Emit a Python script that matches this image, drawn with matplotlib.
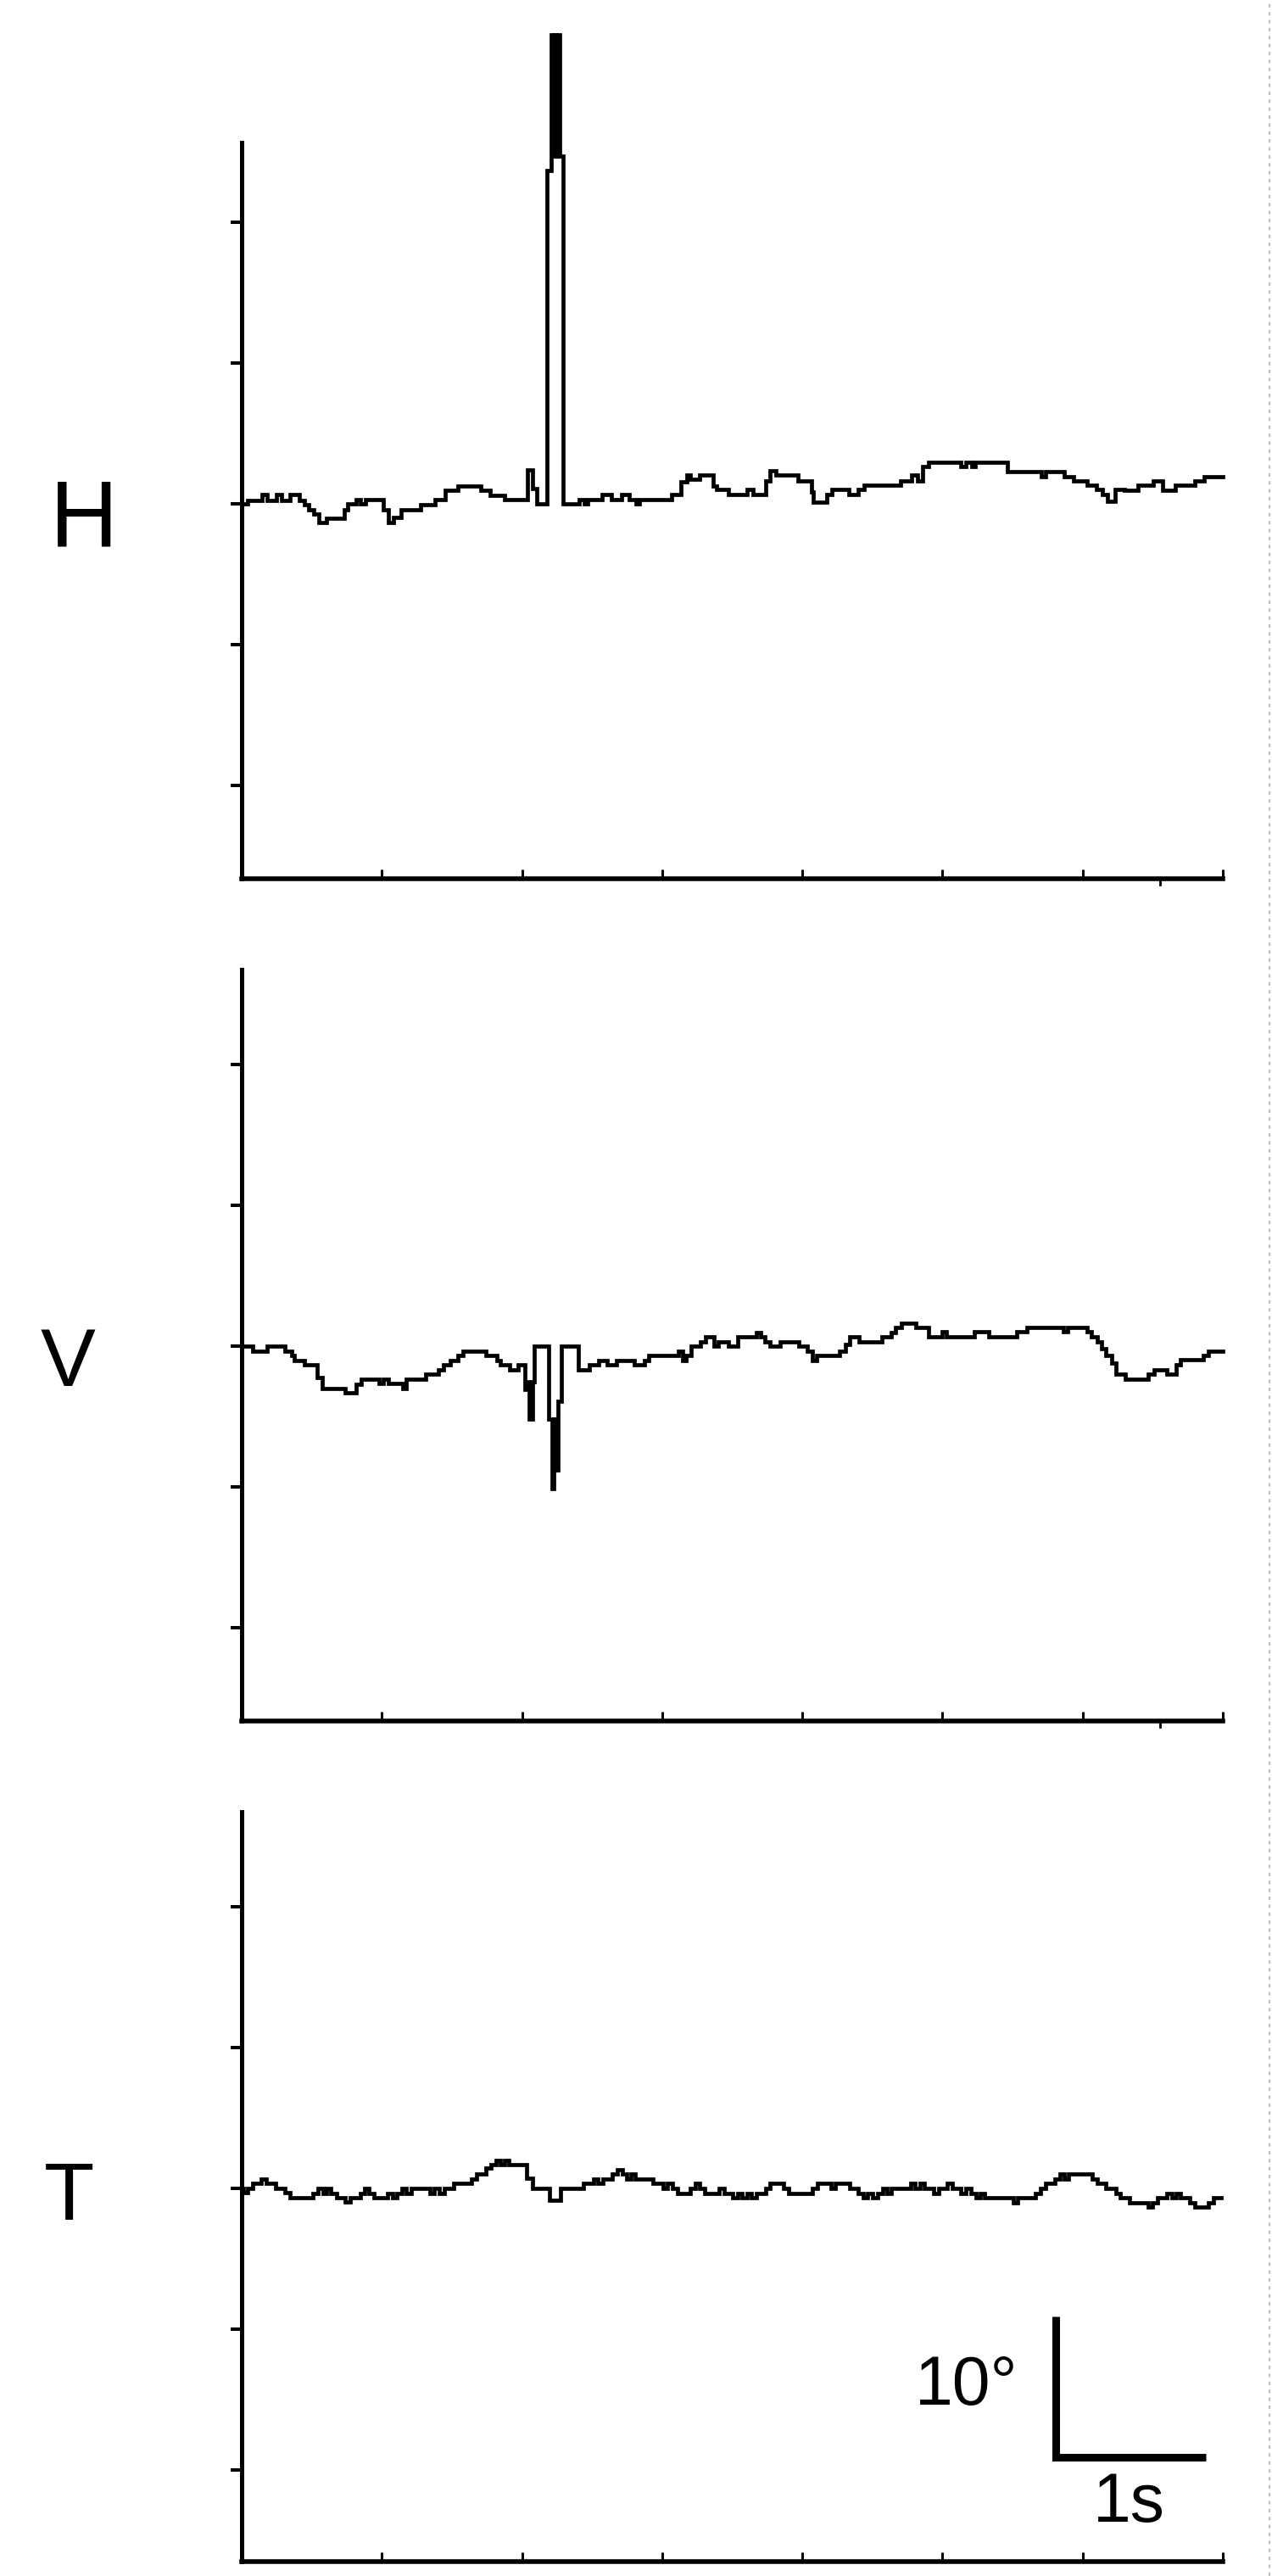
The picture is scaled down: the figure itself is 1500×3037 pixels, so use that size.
#!/usr/bin/env python3
# plot.py
# H / V / T eye-position traces with a 10 deg / 1 s scale bar
#
# Usage: python plot.py  -> writes out.png

import numpy as np
import matplotlib
matplotlib.use('Agg')
import matplotlib.pyplot as plt
from matplotlib.lines import Line2D

plt.rcParams['font.family'] = ['Liberation Sans', 'DejaVu Sans']

# ---- data (time in s, angle in deg) ----
PANEL_LABELS = ['H', 'V', 'T']

H_T = [0, 0.041, 0.145, 0.18, 0.249, 0.284, 0.342, 0.411, 0.445, 0.48, 0.515,
       0.549, 0.607, 0.734, 0.757, 0.815, 0.85, 0.884, 1.011, 1.046, 1.08,
       1.138, 1.277, 1.381, 1.45, 1.543, 1.704, 1.774, 1.877, 2.039, 2.074,
       2.108, 2.177, 2.21, 2.222, 2.233, 2.245, 2.256, 2.268, 2.278, 2.293,
       2.409, 2.444, 2.467, 2.571, 2.64, 2.709, 2.767, 2.813, 2.836, 3.067,
       3.135, 3.175, 3.202, 3.27, 3.364, 3.391, 3.472, 3.607, 3.647, 3.741,
       3.768, 3.809, 3.97, 4.065, 4.078, 4.173, 4.213, 4.334, 4.401, 4.442,
       4.698, 4.778, 4.819, 4.859, 4.9, 5.128, 5.169, 5.209, 5.236, 5.465,
       5.708, 5.735, 5.869, 5.937, 6.031, 6.098, 6.139, 6.179, 6.233, 6.3,
       6.395, 6.502, 6.57, 6.664, 6.799, 6.866, 7.0]
H_DEG = [0, 0.27, 0.67, 0.27, 0.67, 0.27, 0.67, 0.27, -0.05, -0.4, -0.75,
         -1.34, -1.02, -0.4, 0.0, 0.32, 0.0, 0.32, -0.4, -1.34, -0.95,
         -0.4, -0.05, 0.32, 0.94, 1.29, 0.94, 0.62, 0.32, 2.42, 1.08,
         0.0, 23.7, 33.3, 24.7, 33.3, 24.7, 33.3, 24.7, 24.7, 0.0,
         0.32, 0.0, 0.32, 0.67, 0.32, 0.67, 0.32, 0.0, 0.32, 0.67,
         1.55, 2.05, 1.75, 2.05, 1.25, 1.04, 0.64, 1.04, 0.64, 1.6,
         2.35, 2.05, 1.65, 0.84, 0.1, 0.64, 1.04, 0.64, 1.04, 1.35,
         1.65, 2.05, 1.65, 2.65, 2.95, 2.65, 2.95, 2.65, 2.95, 2.29,
         1.95, 2.29, 1.95, 1.65, 1.35, 1.04, 0.64, 0.2, 1.04, 0.94,
         1.35, 1.65, 0.94, 1.35, 1.65, 1.95, 1.95]

V_T = [0, 0.077, 0.181, 0.308, 0.355, 0.378, 0.447, 0.539, 0.574, 0.736,
       0.817, 0.851, 0.978, 1.013, 1.048, 1.151, 1.174, 1.313, 1.406, 1.44,
       1.486, 1.544, 1.579, 1.741, 1.821, 1.844, 1.914, 1.971, 2.018, 2.04,
       2.052, 2.075, 2.087, 2.191, 2.214, 2.224, 2.232, 2.24, 2.248, 2.255,
       2.283, 2.399, 2.479, 2.549, 2.607, 2.676, 2.803, 2.872, 2.907, 3.115,
       3.149, 3.172, 3.207, 3.276, 3.311, 3.37, 3.4, 3.47, 3.541, 3.671,
       3.702, 3.732, 3.772, 3.842, 3.973, 4.033, 4.074, 4.104, 4.265, 4.305,
       4.335, 4.406, 4.567, 4.637, 4.667, 4.707, 4.808, 4.898, 4.999, 5.029,
       5.23, 5.331, 5.532, 5.602, 5.864, 5.894, 6.035, 6.065, 6.105, 6.136,
       6.166, 6.206, 6.236, 6.307, 6.468, 6.508, 6.598, 6.669, 6.699, 6.86,
       6.9, 7.0]
V_DEG = [0, -0.34, 0, -0.34, -0.68, -1.0, -1.35, -2.2, -3.0, -3.3,
         -2.7, -2.35, -2.65, -2.35, -2.65, -3.0, -2.35, -2.0, -1.7, -1.35,
         -1.0, -0.68, -0.34, -0.68, -1.0, -1.35, -1.7, -1.35, -3.1, -2.5,
         -5.2, -2.5, 0, -5.2, -10.1, -5.2, -8.8, -5.2, -8.8, -3.9,
         0, -1.7, -1.35, -1.0, -1.35, -1.0, -1.35, -1.0, -0.68, -0.34,
         -1.0, -0.68, 0, 0.32, 0.66, 0, 0.32, 0, 0.66, 0.98,
         0.66, 0.32, 0, 0.32, 0, -0.34, -1.02, -0.68, -0.34, 0.1,
         0.66, 0.32, 0.66, 0.98, 1.33, 1.63, 1.33, 0.66, 1.02, 0.66,
         1.0, 0.66, 1.0, 1.33, 1.0, 1.33, 1.0, 0.66, 0.32, -0.18,
         -0.68, -1.19, -1.99, -2.35, -1.99, -1.69, -1.99, -1.35, -0.98, -0.68,
         -0.34, -0.34]

T_T = [0, 0.013, 0.043, 0.076, 0.14, 0.175, 0.244, 0.307, 0.344, 0.51,
       0.545, 0.579, 0.602, 0.637, 0.676, 0.741, 0.776, 0.845, 0.875, 0.907,
       0.944, 1.041, 1.076, 1.106, 1.145, 1.175, 1.21, 1.342, 1.376, 1.411,
       1.445, 1.51, 1.642, 1.677, 1.745, 1.776, 1.815, 1.845, 1.873, 1.907,
       2.034, 2.076, 2.196, 2.277, 2.438, 2.508, 2.543, 2.577, 2.646, 2.681,
       2.716, 2.746, 2.774, 2.808, 2.935, 3.004, 3.039, 3.074, 3.108, 3.2,
       3.235, 3.27, 3.305, 3.409, 3.443, 3.505, 3.539, 3.569, 3.604, 3.637,
       3.673, 3.736, 3.771, 3.868, 3.904, 4.071, 4.106, 4.205, 4.237, 4.337,
       4.401, 4.436, 4.468, 4.503, 4.537, 4.572, 4.602, 4.636, 4.771, 4.805,
       4.838, 4.868, 4.937, 4.972, 5.036, 5.069, 5.133, 5.168, 5.203, 5.237,
       5.272, 5.302, 5.503, 5.533, 5.664, 5.699, 5.734, 5.803, 5.838, 5.868,
       5.9, 6.069, 6.103, 6.168, 6.235, 6.27, 6.334, 6.468, 6.5, 6.535,
       6.6, 6.634, 6.669, 6.699, 6.766, 6.8, 6.9, 6.934, 6.99]
T_DEG = [0, -0.3, 0, 0.34, 0.66, 0.34, 0, -0.3, -0.66, -0.34,
         0, -0.34, 0, -0.34, -0.66, -0.96, -0.66, -0.34, 0, -0.34,
         -0.66, -0.34, -0.66, -0.34, 0, -0.34, 0, -0.34, 0, -0.34,
         0, 0.34, 0.66, 1.0, 1.45, 1.67, 2.0, 1.67, 2.0, 1.67,
         0.7, 0, -0.84, 0, 0.34, 0.66, 0.34, 0.66, 1.0, 1.3,
         1.0, 0.66, 1.0, 0.66, 0.34, 0, 0.34, 0, -0.34, 0,
         0.34, 0, -0.34, 0, -0.34, -0.66, -0.34, -0.66, -0.34, -0.66,
         -0.34, 0, 0.34, 0, -0.34, 0, 0.34, 0, 0.34, 0,
         -0.34, -0.66, -0.34, -0.66, -0.34, 0, -0.34, 0, 0.34, 0,
         0.34, 0, -0.34, 0, 0.34, 0, -0.34, 0, -0.34, -0.66,
         -0.34, -0.66, -1.0, -0.66, -0.34, 0, 0.34, 0.66, 1.0, 0.66,
         1.0, 0.66, 0.34, 0, -0.34, -0.66, -1.0, -1.3, -1.0, -0.66,
         -0.34, -0.66, -0.34, -0.66, -1.0, -1.33, -1.0, -0.66, -0.66]

X_TICKS = [0, 1, 2, 3, 4, 5, 6, 7]
Y_TICKS = [-20, -10, 0, 10, 20]
SCALE_DEG = 10      # vertical scale bar
SCALE_SEC = 1.07    # horizontal bar as drawn

# ---- layout (pixels of the 1500 x 3037 canvas) ----
W, H = 1500, 3037
AX_LEFT, AX_RIGHT = 285, 1442
PX_PER_DEG = 16.6
# (spine top, spine bottom, zero line) per panel
PANEL_PIX = [(168, 1036, 594), (1143, 2029, 1587), (2136, 3020, 2580)]
LABEL_PIX = [(99, 645, 80), (80, 1634, 70), (82, 2617, 70)]  # x, baseline, size


def draw_panel(ax, t, deg, pix):
    top, bottom, zero = pix
    ax.set_xlim(0, 7)
    ax.set_ylim(-(bottom - zero) / PX_PER_DEG, (zero - top) / PX_PER_DEG)
    ax.plot(t, deg, drawstyle='steps-post', color='black', lw=3.4,
            solid_joinstyle='miter', clip_on=False)
    for side in ('top', 'right'):
        ax.spines[side].set_visible(False)
    ax.spines['left'].set_linewidth(3.6)
    ax.spines['bottom'].set_linewidth(4.0)
    ax.set_xticks(X_TICKS)
    ax.set_yticks(Y_TICKS)
    ax.set_xticklabels([])
    ax.set_yticklabels([])
    ax.tick_params(axis='x', direction='in', length=8, width=2.2)
    ax.tick_params(axis='y', direction='out', length=9.5, width=2.9)
    ax.patch.set_alpha(0)


def main():
    fig = plt.figure(figsize=(W / 100, H / 100), dpi=100)
    traces = [(H_T, H_DEG), (V_T, V_DEG), (T_T, T_DEG)]
    axes = []
    for (t, deg), pix in zip(traces, PANEL_PIX):
        top, bottom, _ = pix
        ax = fig.add_axes([AX_LEFT / W, 1 - bottom / H,
                           (AX_RIGHT - AX_LEFT) / W, (bottom - top) / H])
        draw_panel(ax, t, deg, pix)
        axes.append(ax)

    for label, (x, base, size) in zip(PANEL_LABELS, LABEL_PIX):
        fig.text(x / W, 1 - base / H, label, fontsize=size,
                 ha='center', va='baseline')

    # scale bar in the T panel
    ax = axes[2]
    x0, y0 = 5.81, -19.1
    ax.plot([x0, x0, x0 + SCALE_SEC], [y0 + SCALE_DEG, y0, y0],
            color='black', lw=6.5, solid_capstyle='butt',
            solid_joinstyle='miter', clip_on=False)
    ax.text(x0 - 0.27, y0 + 3.75, '10°', fontsize=58, ha='right', va='baseline')
    ax.text(x0 + 0.52, y0 - 4.6, '1s', fontsize=58, ha='center', va='baseline')

    # small stray marks under the H and V axes
    for ax in axes[:2]:
        ax.plot([6.55, 6.55], [ax.get_ylim()[0], ax.get_ylim()[0] - 0.4],
                color='black', lw=2, clip_on=False)

    # dotted page edge on the right
    fig.add_artist(Line2D([0.998, 0.998], [0, 1], color='#c9b9c1', lw=1.5,
                          linestyle=(0, (2, 2.5))))

    fig.savefig('out.png', dpi=100, facecolor='white')
    plt.close(fig)


if __name__ == '__main__':
    main()
